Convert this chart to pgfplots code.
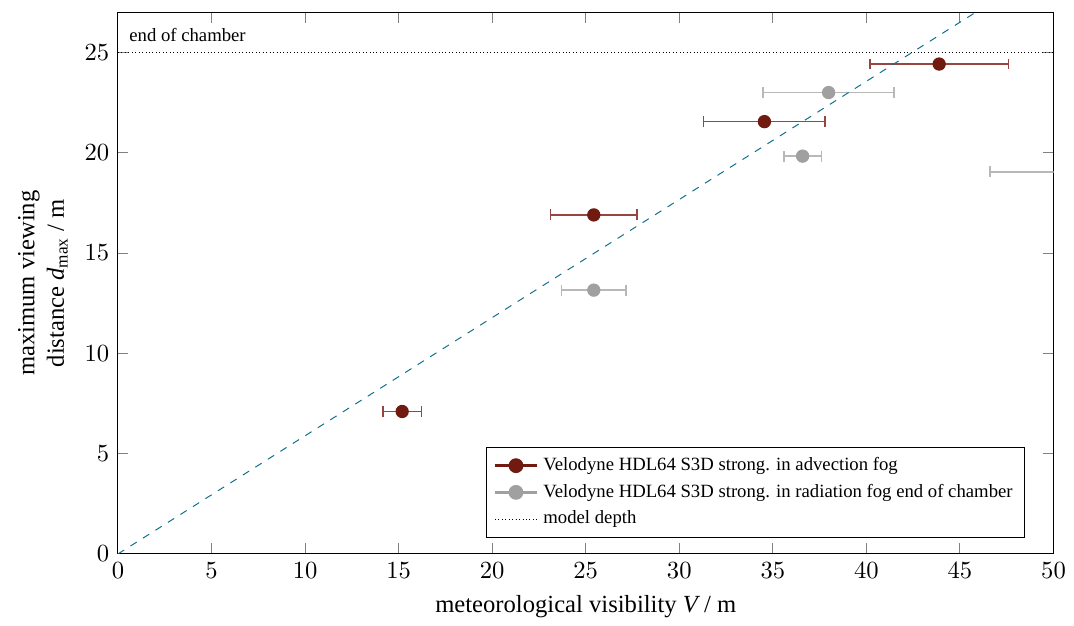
\documentclass[border=0pt]{standalone}
\usepackage{amsmath}
\usepackage{fontspec}
\setmainfont{Liberation Serif}
\usepackage{pgfplots}
\pgfplotsset{compat=1.18}

\definecolor{advred}{RGB}{112,26,16}
\definecolor{adverr}{RGB}{150,70,62}
\definecolor{radgray}{RGB}{160,160,160}
\definecolor{raderr}{RGB}{184,184,184}
\definecolor{modelteal}{RGB}{16,112,140}

\begin{document}
\begin{tikzpicture}
\begin{axis}[
    width=380pt,
    height=220pt,
    scale only axis,
    xmin=0, xmax=50,
    ymin=0, ymax=27,
    xtick={0,5,...,50},
    ytick={0,5,...,25},
    tick style={gray, thin},
    xlabel={meteorological visibility $\textit{V}$ / m},
    ylabel={maximum viewing\\distance $\textit{d}_{\text{max}}$ / m},
    ylabel style={align=center},
    legend style={at={(0.97,0.03)}, anchor=south east, font=\fontsize{7.6}{9.5}\selectfont,
        draw=black, cells={anchor=west}},
    legend cell align=left,
    clip=true,
]
\addlegendimage{advred, line width=1.2pt, mark=*, mark size=2.4pt}
\addlegendimage{radgray, line width=1.2pt, mark=*, mark size=2.4pt}
\addlegendimage{black, densely dotted, thin}
% advection fog
\addplot+[
    forget plot,
    color=advred, only marks,
    mark=*, mark size=2.5pt, mark options={fill=advred, draw=advred, line width=0.4pt},
    error bars/.cd, x dir=both, x explicit,
    error bar style={color=adverr, line width=0.6pt},
    error mark options={rotate=90, mark size=2.2pt, color=adverr, line width=0.6pt},
] coordinates {
    (15.19,7.10) +- (1.03,0)
    (25.43,16.90) +- (2.31,0)
    (34.55,21.55) +- (3.25,0)
    (43.89,24.42) +- (3.71,0)
};
% radiation fog
\addplot+[
    forget plot,
    color=radgray, only marks,
    mark=*, mark size=2.5pt, mark options={fill=radgray, draw=radgray, line width=0.4pt},
    error bars/.cd, x dir=both, x explicit,
    error bar style={color=raderr, line width=0.6pt},
    error mark options={rotate=90, mark size=2.2pt, color=raderr, line width=0.6pt},
] coordinates {
    (25.43,13.15) +- (1.72,0)
    (36.59,19.83) +- (1.00,0)
    (37.98,23.00) +- (3.50,0)
    (55.00,19.05) +- (8.40,0)
};
% end of chamber
\addplot[black, densely dotted, thin, forget plot] coordinates {(0,25) (50,25)};
% model
\addplot[modelteal, dashed, thin, forget plot] coordinates {(0,0) (50,29.45)};
\node[anchor=south west, font=\fontsize{7.6}{9.5}\selectfont, inner sep=1pt] at (axis cs:0.45,25.4) {end of chamber};
\legend{Velodyne HDL64 S3D strong. in advection fog,
        Velodyne HDL64 S3D strong. in radiation fog end of chamber,
        model depth}
\end{axis}
\path ([yshift=5pt]current axis.north);
\path ([xshift=-4pt]current bounding box.west);
\end{tikzpicture}
\end{document}
